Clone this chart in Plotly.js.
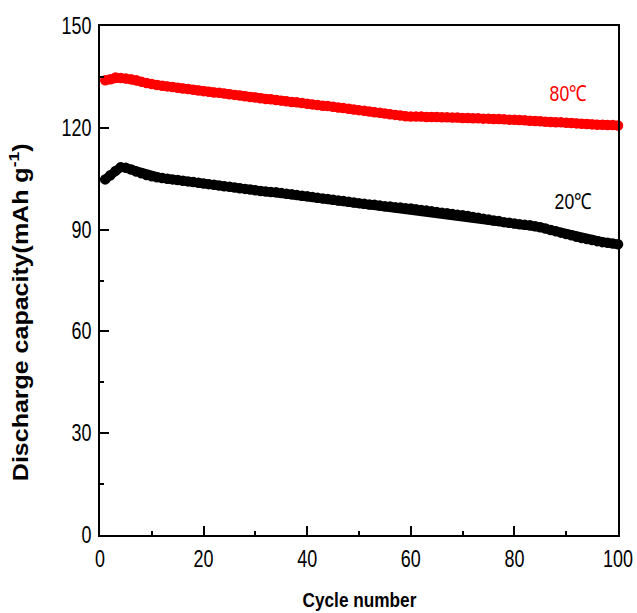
<!DOCTYPE html>
<html>
<head>
<meta charset="utf-8">
<script src="https://cdn.plot.ly/plotly-3.0.1.min.js"></script>
<style>html,body{margin:0;padding:0;background:#fff;}#chart{width:637px;height:613px;}</style>
</head>
<body>
<div id="chart"></div>
<script>
const cycles = [];
for (let i = 1; i <= 100; i++) cycles.push(i);

const cap80 = [
134.0,134.3,134.8,134.7,134.5,134.3,134.0,133.6,133.2,132.9,
132.6,132.4,132.2,132.0,131.8,131.6,131.4,131.2,131.0,130.8,
130.6,130.4,130.3,130.1,129.9,129.7,129.5,129.3,129.1,128.9,
128.7,128.5,128.4,128.2,128.0,127.8,127.6,127.5,127.3,127.1,
126.9,126.7,126.5,126.4,126.2,126.0,125.8,125.6,125.4,125.2,
125.0,124.8,124.6,124.4,124.2,124.0,123.8,123.6,123.4,123.3,
123.3,123.3,123.2,123.2,123.2,123.1,123.1,123.0,123.0,122.9,
122.9,122.8,122.8,122.7,122.7,122.6,122.6,122.5,122.4,122.4,
122.3,122.2,122.1,122.0,121.9,121.8,121.7,121.6,121.6,121.5,
121.4,121.3,121.2,121.1,121.0,120.9,120.9,120.8,120.8,120.7];

const cap20 = [
104.8,106.0,107.3,108.4,108.2,107.7,107.1,106.6,106.1,105.7,
105.4,105.2,105.0,104.8,104.6,104.4,104.2,104.0,103.8,103.6,
103.4,103.2,103.0,102.8,102.6,102.4,102.2,102.0,101.8,101.6,
101.4,101.2,101.1,101.0,100.8,100.6,100.4,100.2,100.0,99.8,
99.6,99.4,99.2,99.0,98.8,98.6,98.4,98.2,98.0,97.8,
97.6,97.4,97.3,97.1,96.9,96.8,96.6,96.5,96.3,96.2,
96.0,95.8,95.6,95.4,95.2,95.0,94.8,94.6,94.4,94.2,
94.0,93.7,93.5,93.2,93.0,92.7,92.5,92.2,92.0,91.8,
91.6,91.4,91.3,91.0,90.7,90.3,89.9,89.5,89.1,88.7,
88.3,87.9,87.5,87.2,86.9,86.6,86.3,86.1,85.9,85.7];

const seriesLabels = ['80℃', '20℃'];
const xTitle = 'Cycle number';
const yTitle = 'Discharge capacity(mAh g<sup>-1</sup>)';
const xTickVals = [0, 20, 40, 60, 80, 100];
const yTickVals = [0, 30, 60, 90, 120, 150];

const fam = '"Liberation Sans", Arial, Helvetica, sans-serif';

const traces = [
  {x: cycles, y: cap80, mode: 'lines+markers', line: {color: '#ff0000', width: 9},
   marker: {color: '#ff0000', size: 10.5, symbol: 'circle'}, hoverinfo: 'none', cliponaxis: false},
  {x: cycles, y: cap20, mode: 'lines+markers', line: {color: '#000000', width: 9},
   marker: {color: '#000000', size: 10.5, symbol: 'circle'}, hoverinfo: 'none', cliponaxis: false}
];

const layout = {
  width: 637, height: 613,
  margin: {l: 100, r: 19, t: 26, b: 78},
  paper_bgcolor: '#fff', plot_bgcolor: '#fff',
  showlegend: false,
  xaxis: {
    range: [0, 100], tickvals: xTickVals, ticks: 'inside', ticklen: 9, tickwidth: 2,
    tickcolor: '#000', showline: true, linecolor: '#000', linewidth: 2, mirror: true,
    showgrid: false, zeroline: false, ticklabelstandoff: 2, ticklabeloverflow: 'allow',
    automargin: false,
    minor: {dtick: 10, ticks: 'inside', ticklen: 4, tickwidth: 2, tickcolor: '#000', showgrid: false},
    tickfont: {family: fam, size: 23, color: '#000'}
  },
  yaxis: {
    range: [0, 150], tickvals: yTickVals, ticks: 'inside', ticklen: 9, tickwidth: 2,
    tickcolor: '#000', showline: true, linecolor: '#000', linewidth: 2, mirror: true,
    showgrid: false, zeroline: false, ticklabelstandoff: 2, ticklabeloverflow: 'allow',
    automargin: false,
    minor: {dtick: 15, ticks: 'inside', ticklen: 4, tickwidth: 2, tickcolor: '#000', showgrid: false},
    tickfont: {family: fam, size: 23, color: '#000'}
  },
  annotations: [
    {x: 90.3, y: 130.0, xref: 'x', yref: 'y', text: seriesLabels[0], showarrow: false,
     font: {family: fam, size: 22, color: '#ff0000'}},
    {x: 91.3, y: 98.4, xref: 'x', yref: 'y', text: seriesLabels[1], showarrow: false,
     font: {family: fam, size: 22, color: '#000'}},
    {x: 0.5, y: -0.126, xref: 'paper', yref: 'paper', text: '<b>' + xTitle + '</b>', showarrow: false,
     xanchor: 'center', yanchor: 'middle', font: {family: fam, size: 21, color: '#000'}},
    {x: -0.156, y: 0.438, xref: 'paper', yref: 'paper', text: '<b>' + yTitle + '</b>', showarrow: false,
     textangle: -90, xanchor: 'center', yanchor: 'middle', font: {family: fam, size: 25, color: '#000'}}
  ]
};

function squeeze(nodes, sx, sy, anchor) {
  nodes.forEach(t => {
    if (!t) return;
    const bb = t.getBBox();
    let cx = bb.x + bb.width / 2;
    if (anchor === 'right') cx = bb.x + bb.width;
    const cy = bb.y + bb.height / 2;
    const prev = t.getAttribute('transform') || '';
    t.setAttribute('transform', prev + ' translate(' + cx + ',' + cy + ') scale(' + sx + ',' + sy + ') translate(' + (-cx) + ',' + (-cy) + ')');
  });
}

Plotly.newPlot('chart', traces, layout, {displayModeBar: false, staticPlot: true}).then(gd => {
  squeeze(gd.querySelectorAll('g.xtick text'), 0.78, 1, 'center');
  squeeze(gd.querySelectorAll('g.ytick text'), 0.78, 1, 'right');
  const ann = gd.querySelectorAll('g.annotation text.annotation-text');
  squeeze([ann[0], ann[1]], 0.8, 1, 'center');
  squeeze([ann[2]], 0.82, 1, 'center');
  squeeze([ann[3]], 1, 0.88, 'center');
});
</script>
</body>
</html>
